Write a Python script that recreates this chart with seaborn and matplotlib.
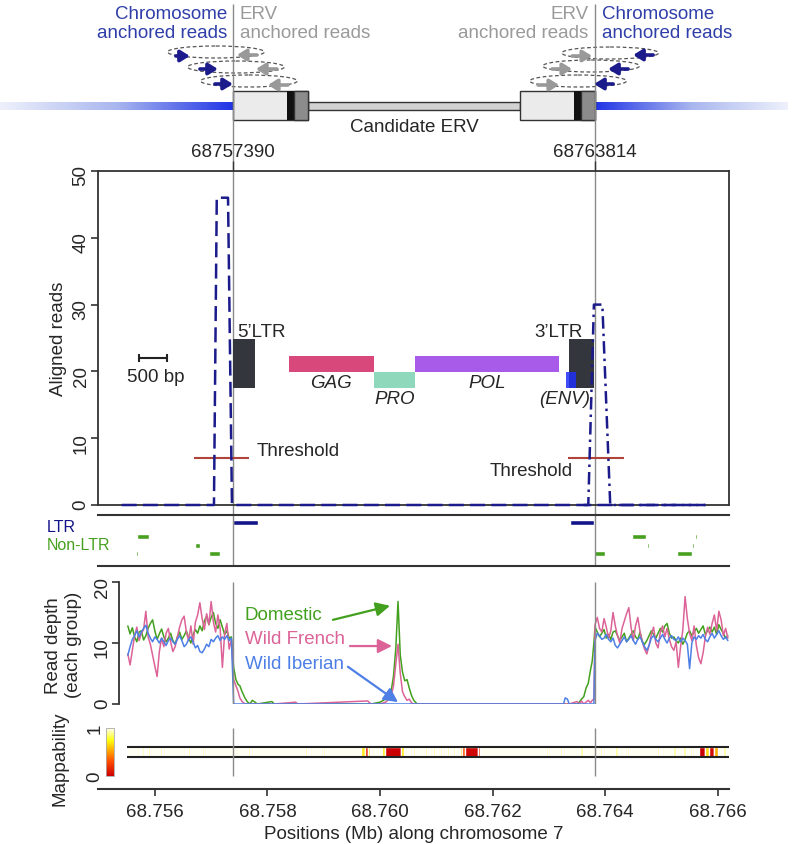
import numpy as np
import pandas as pd
import matplotlib
matplotlib.use("Agg")
import matplotlib.pyplot as plt
import seaborn as sns
from matplotlib.patches import Rectangle, Ellipse
from matplotlib.colors import LinearSegmentedColormap, Normalize
import matplotlib.cm as cm

# ---------------- data ----------------
INS_5 = 68.757390          # 5' insertion site (Mb)
INS_3 = 68.763814          # 3' insertion site (Mb)
site_labels = ["68757390", "68763814"]

# discordant read coverage (aligned reads)
reads5_pos = [68.75541, 68.75705, 68.75710, 68.75730, 68.75737, 68.76578]
reads5_val = [0, 0, 46, 46, 0, 0]
reads3_pos = [68.76362, 68.76370, 68.76380, 68.76395, 68.76409, 68.76578]
reads3_val = [0, 0, 30, 30, 0, 0]
threshold = 7
thr_start = [68.75669, 68.76334]
thr_end = [68.75767, 68.76434]

# ERV annotation
ltr_names = ["5’LTR", "3’LTR"]
ltr_start = [68.75739, 68.76336]
ltr_end = [68.75778, 68.76381]
feat_names = ["GAG", "PRO", "POL", "(ENV)"]
feat_start = [68.75838, 68.75989, 68.76062, 68.76331]
feat_end = [68.75989, 68.76062, 68.76318, 68.76348]

# repeat annotation track
te_ltr_start = [68.75739, 68.76338]
te_ltr_end = [68.75783, 68.76381]
te_non_start = [68.75568, 68.75567, 68.75671, 68.75696, 68.76381, 68.76448, 68.76474, 68.76477, 68.76528, 68.76555, 68.76559]
te_non_end = [68.75589, 68.75570, 68.75680, 68.75716, 68.76400, 68.76473, 68.76477, 68.76480, 68.76555, 68.76558, 68.76564]
te_non_row = [1, 3, 2, 3, 3, 1, 2, 3, 3, 2, 1]

# read depth per group
groups = ["Domestic", "Wild French", "Wild Iberian"]
left_pos = np.round(68.75552 + 0.00004 * np.arange(47), 5)
mid_pos = [68.75740, 68.75744, 68.75748, 68.75751, 68.75755, 68.75760, 68.75764, 68.75769, 68.75773, 68.75778,
           68.75782, 68.75808, 68.75812, 68.75850, 68.75854, 68.75978, 68.75984, 68.76000, 68.76010, 68.76016,
           68.76020, 68.76024, 68.76028, 68.76032, 68.76036, 68.76040, 68.76044, 68.76048, 68.76052, 68.76056,
           68.76060, 68.76066, 68.76326, 68.76329, 68.76333, 68.76336, 68.76350, 68.76354, 68.76358, 68.76362,
           68.76366, 68.76370, 68.76374, 68.76377, 68.76380]
right_pos = np.round(68.76382 + 0.00004 * np.arange(60), 5)

dom_left = [12.8, 11.5, 12.5, 11.0, 10.2, 11.8, 12.0, 10.5, 11.2, 12.4,
            13.2, 13.8, 12.0, 10.6, 11.5, 12.3, 11.0, 10.2, 10.8, 11.6,
            10.4, 9.8, 11.0, 11.8, 10.6, 11.2, 12.0, 10.8, 10.0, 11.4,
            12.2, 11.6, 12.8, 12.0, 13.6, 14.4, 13.0, 14.2, 15.0, 13.2,
            12.4, 13.8, 12.6, 11.4, 12.0, 10.8, 11.0]
fr_left = [8.2, 6.4, 8.8, 11.2, 12.6, 10.4, 11.6, 12.2, 15.2, 11.0,
           9.8, 8.0, 6.2, 4.5, 8.6, 10.8, 9.4, 11.6, 12.4, 10.2,
           8.6, 9.4, 11.0, 12.6, 13.8, 14.4, 11.8, 10.4, 12.8, 9.8,
           13.4, 14.6, 16.6, 14.0, 12.2, 14.8, 13.0, 16.8, 13.4, 11.8,
           14.6, 12.4, 6.0, 11.6, 13.2, 9.0, 10.6]
ib_left = [8.0, 9.4, 10.6, 11.2, 12.0, 11.0, 11.8, 12.4, 12.9, 11.6,
           10.8, 10.2, 11.0, 10.6, 10.0, 10.8, 10.2, 9.6, 10.4, 10.8,
           10.2, 9.8, 10.6, 11.2, 10.4, 9.4, 9.8, 10.6, 11.0, 10.2,
           9.2, 9.6, 8.6, 8.4, 9.0, 9.8, 9.4, 10.6, 10.2, 10.8,
           11.2, 10.4, 11.0, 10.6, 11.2, 10.4, 10.8]

dom_mid = [6.0, 4.0, 3.2, 3.0, 2.0, 1.0, 0.4, 0.0, 0.6, 0.3,
           0.0, 0.4, 0.0, 0.0, 0.0, 0.0, 0.0, 0.3, 0.8, 1.6,
           2.2, 4.6, 9.0, 16.8, 8.0, 5.2, 3.8, 4.0, 2.6, 1.4,
           0.6, 0.0, 0.0, 0.0, 0.0, 0.0, 0.0, 0.3, 0.8, 1.2,
           2.6, 3.4, 5.6, 7.0, 10.0]
fr_mid = [4.0, 3.0, 2.0, 1.0, 0.4, 0.0, 0.0, 0.0, 0.0, 0.0,
          0.0, 0.0, 0.0, 0.3, 0.0, 0.5, 0.0, 0.0, 0.3, 0.8,
          1.4, 3.0, 6.5, 9.8, 5.0, 2.0, 1.2, 0.6, 0.8, 0.2,
          0.0, 0.0, 0.0, 0.0, 0.0, 0.0, 0.4, 0.0, 0.5, 0.0,
          0.3, 0.6, 0.2, 0.6, 0.8]
ib_mid = [0.0, 0.0, 0.0, 0.0, 0.0, 0.0, 0.0, 0.0, 0.0, 0.0,
          0.0, 0.0, 0.0, 0.0, 0.0, 0.0, 0.0, 0.0, 0.0, 0.0,
          0.0, 0.0, 0.0, 0.0, 0.0, 0.0, 0.0, 0.0, 0.0, 0.0,
          0.0, 0.0, 0.0, 1.0, 0.8, 0.0, 0.0, 0.0, 0.0, 0.0,
          0.0, 0.0, 0.0, 0.0, 0.0]

dom_right = [12.6, 11.8, 11.0, 11.6, 12.2, 10.8, 11.4, 10.6, 11.8, 12.0,
             11.2, 10.4, 11.0, 11.6, 10.2, 10.8, 11.4, 12.0, 11.0, 10.6,
             11.8, 10.2, 9.8, 10.4, 11.2, 12.0, 11.4, 10.8, 11.6, 12.4,
             11.8, 12.8, 13.2, 11.6, 10.8, 11.0, 10.4, 10.0, 10.8, 9.8,
             10.6, 11.6, 12.0, 11.2, 11.8, 12.4, 11.6, 12.2, 12.8, 11.4,
             12.0, 12.6, 11.8, 12.6, 11.4, 13.0, 12.2, 11.6, 10.8, 11.2]
fr_right = [13.0, 14.2, 12.4, 11.8, 14.0, 12.6, 10.8, 12.0, 15.0, 12.8,
            11.2, 10.0, 12.4, 13.6, 14.8, 15.8, 12.6, 10.4, 12.8, 14.2,
            11.8, 10.2, 9.0, 8.2, 9.6, 11.4, 12.6, 10.0, 9.2, 11.8,
            12.8, 11.0, 12.4, 10.6, 9.4, 8.8, 10.2, 6.0, 9.4, 12.2,
            17.6, 14.0, 11.6, 10.4, 12.8, 9.6, 7.6, 6.6, 8.4, 11.0,
            12.6, 11.4, 13.2, 14.6, 12.0, 15.2, 13.8, 11.2, 12.4, 10.8]
ib_right = [10.4, 11.6, 11.2, 10.6, 10.8, 11.4, 10.6, 10.2, 10.8, 9.6,
            9.2, 9.8, 10.4, 11.0, 10.2, 10.6, 11.2, 10.4, 9.8, 10.6,
            11.0, 10.2, 9.4, 8.8, 9.6, 10.8, 11.2, 10.6, 10.2, 10.8,
            11.4, 10.6, 10.0, 10.8, 11.2, 10.6, 10.4, 11.0, 10.2, 10.8,
            10.4, 9.8, 5.8, 10.0, 11.0, 10.6, 11.2, 10.8, 11.4, 10.6,
            10.2, 11.0, 11.6, 10.8, 11.4, 12.0, 11.2, 10.6, 11.0, 10.4]

# mappability (1 everywhere except these spans)
map_range = (68.75550, 68.76620)
map_spot_pos = [68.75577, 68.75588, 68.75609, 68.75659, 68.75684, 68.75765, 68.75867, 68.75899,
                68.76059, 68.76080, 68.76094, 68.76107, 68.76119, 68.76130, 68.76295, 68.76320,
                68.76356, 68.76391, 68.76418, 68.76439, 68.76492, 68.76521, 68.76539, 68.76551, 68.76610]
map_spot_val = 0.9
map_low_start = [68.75966, 68.75973, 68.75979, 68.76003, 68.76009, 68.76037, 68.76142,
                 68.76146, 68.76151, 68.76174, 68.76567, 68.76578, 68.76585, 68.76594]
map_low_end = [68.75973, 68.75979, 68.75983, 68.76009, 68.76037, 68.76043, 68.76146,
               68.76151, 68.76174, 68.76178, 68.76578, 68.76585, 68.76594, 68.76600]
map_low_val = [0.7, 0.15, 0.7, 0.7, 0.0, 0.7, 0.65, 0.3, 0.02, 0.2, 0.0, 0.65, 0.05, 0.55]

x_ticks = [68.756, 68.758, 68.760, 68.762, 68.764, 68.766]

# ---------------- style ----------------
sns.set_style("white")
plt.rcParams["font.family"] = ["Liberation Sans", "DejaVu Sans"]
plt.rcParams["font.size"] = 13.5

NAVY = "#1b1b8c"
GREEN = "#48a020"
TXT_BLUE = "#2f3ea8"
GREY_TXT = "#9a9a9a"
VLINE = "#8a8a8a"
SPINE = "#333333"
palette = {"Domestic": "#43a01f", "Wild French": "#dc6398", "Wild Iberian": "#4d7fe6"}
feat_colors = {"GAG": "#d9487a", "PRO": "#8fd8bb", "POL": "#a85ae8", "(ENV)": "#1f2ff5"}
feat_lane = {"GAG": (19.9, 2.4), "PRO": (17.5, 2.4), "POL": (19.9, 2.4), "(ENV)": (17.5, 2.4)}

XMIN, XMAX = 68.75499, 68.76620
W, H = 793, 845
fig = plt.figure(figsize=(W / 100, H / 100), dpi=100)


def px_axes(left, top, right, bottom):
    return fig.add_axes([left / W, 1 - bottom / H, (right - left) / W, (bottom - top) / H])


# ---------------- schematic ----------------
span = (XMAX - XMIN) / (729 - 98)
sx0, sx1 = XMIN - 98 * span, XMAX + (W - 729) * span
ax_s = px_axes(0, 0, W, 172)
ax_s.axis("off")

grad = np.linspace(0, 1, 256)[None, :]
chrom_cmap = LinearSegmentedColormap.from_list("chrom", ["#eef1fb", "#a9b6ef", "#1f33e6"])
ax_s.imshow(grad, extent=(sx0, INS_5, 111, 103), cmap=chrom_cmap, aspect="auto")
ax_s.imshow(grad[:, ::-1], extent=(INS_3, sx1 - 0.0001, 111, 103), cmap=chrom_cmap, aspect="auto")

box_len = 0.00133
ax_s.add_patch(Rectangle((INS_5 + box_len, 103), INS_3 - INS_5 - 2 * box_len, 8,
                         facecolor="#d2d2d2", edgecolor=SPINE, lw=1))
for b0 in [INS_5, INS_3 - box_len]:
    ax_s.add_patch(Rectangle((b0, 92), box_len, 29, facecolor="#ebebeb", edgecolor=SPINE, lw=1))
    ax_s.add_patch(Rectangle((b0 + 0.00096, 92), 0.000125, 29, facecolor="#111111", edgecolor="none"))
    ax_s.add_patch(Rectangle((b0 + 0.001085, 92), box_len - 0.001085, 29, facecolor="#8c8c8c",
                             edgecolor=SPINE, lw=1))
ax_s.text((INS_5 + INS_3) / 2, 128, "Candidate ERV", ha="center", va="center")

ax_s.text(INS_5 - 0.00011, 24, "Chromosome\nanchored reads", ha="right", va="center",
          multialignment="right", color=TXT_BLUE)
ax_s.text(INS_5 + 0.00012, 24, "ERV\nanchored reads", ha="left", va="center",
          multialignment="left", color=GREY_TXT)
ax_s.text(INS_3 - 0.00011, 24, "ERV\nanchored reads", ha="right", va="center",
          multialignment="right", color=GREY_TXT)
ax_s.text(INS_3 + 0.00013, 24, "Chromosome\nanchored reads", ha="left", va="center",
          multialignment="left", color=TXT_BLUE)

ell_w = 0.00172
for cx, cy in [(68.757084, 53), (68.757440, 68), (68.757671, 82),
               (68.764089, 54), (68.763751, 67), (68.763520, 82)]:
    ax_s.add_patch(Ellipse((cx, cy), ell_w, 12, fill=False, ls=(0, (3, 2)), edgecolor="#555555", lw=0.9))

arrows = [(68.756373, 68.756622, 57, NAVY), (68.756800, 68.757120, 70, NAVY), (68.757067, 68.757387, 85, NAVY),
          (68.757813, 68.757458, 56, "#999999"), (68.758169, 68.757796, 70, "#999999"), (68.758364, 68.758009, 86, "#999999"),
          (68.763413, 68.763769, 57, "#999999"), (68.763058, 68.763413, 70, "#999999"), (68.762809, 68.763182, 86, "#999999"),
          (68.764853, 68.764498, 56, NAVY), (68.764409, 68.764053, 70, NAVY), (68.764142, 68.763804, 85, NAVY)]
for x0, x1, y, c in arrows:
    ax_s.annotate("", xy=(x1, y), xytext=(x0, y),
                  arrowprops=dict(arrowstyle="-|>,head_length=0.45,head_width=0.28", color=c, lw=2.6,
                                  shrinkA=0, shrinkB=0, mutation_scale=12))
ax_s.vlines([INS_5, INS_3], 5, 172, colors=VLINE, lw=1)
ax_s.set_xlim(sx0, sx1)
ax_s.set_ylim(172, 0)

# ---------------- aligned reads ----------------
ax = px_axes(98, 172, 729, 506)
sns.lineplot(x=reads5_pos, y=reads5_val, estimator=None, sort=False, color=NAVY, lw=1.8,
             linestyle=(0, (6, 2.5)), ax=ax, clip_on=False, zorder=4)
sns.lineplot(x=reads3_pos, y=reads3_val, estimator=None, sort=False, color=NAVY, lw=1.8,
             linestyle=(0, (5, 2, 1, 2)), ax=ax, clip_on=False, zorder=4)
ax.hlines([threshold, threshold], thr_start, thr_end, colors="#b0443a", lw=1.5)
ax.text(68.75781, threshold + 1.1, "Threshold", ha="left", va="center")
ax.text(68.76343, threshold - 1.9, "Threshold", ha="right", va="center")

for name, s, e in zip(ltr_names, ltr_start, ltr_end):
    ax.add_patch(Rectangle((s, 17.5), e - s, 7.3, facecolor="#33363d", edgecolor="none", zorder=3))
ax.text(ltr_start[0] + 0.00007, 26.0, ltr_names[0], ha="left", va="center")
ax.text(68.76360, 26.0, ltr_names[1], ha="right", va="center")
for name, s, e in zip(feat_names, feat_start, feat_end):
    y0, h = feat_lane[name]
    ax.add_patch(Rectangle((s, y0), e - s, h, facecolor=feat_colors[name], edgecolor="none",
                           alpha=0.85 if name == "(ENV)" else 1, zorder=3.5))
    ty = y0 - 1.5
    ax.text((s + e) / 2 - (0.00012 if name == "(ENV)" else 0), ty, name, ha="center", va="center",
            style="italic")

ax.errorbar([68.75597], [22.0], xerr=[0.00025], color="#222222", capsize=3, lw=1.5, capthick=1.5)
ax.text(68.75602, 19.3, "500 bp", ha="center", va="center")

ax.vlines([INS_5, INS_3], -2, 50, colors=VLINE, lw=1, clip_on=False, zorder=1)
ax.set_xlim(XMIN, XMAX)
ax.set_ylim(0, 50)
ax.set_yticks([0, 10, 20, 30, 40, 50])
ax.xaxis.tick_top()
ax.set_xticks([INS_5, INS_3])
ax.set_xticklabels(site_labels)
ax.tick_params(axis="x", length=7, width=1, color=SPINE, pad=1, labelsize=13.5)
ax.tick_params(axis="y", left=True, length=5, width=1.2, color=SPINE, pad=1, labelrotation=90, labelsize=13.5)
for sp in ax.spines.values():
    sp.set_color(SPINE)
    sp.set_linewidth(1.3)
ax.set_xlabel("")
ax.set_ylabel("")
ax.text(-0.063, 0.5, "Aligned reads", rotation=90, ha="center", va="center", transform=ax.transAxes)

# ---------------- repeat track ----------------
ax_te = px_axes(98, 516, 729, 567)
row_y = {0: 7, 1: 21, 2: 30, 3: 38}
ax_te.broken_barh([(s, e - s) for s, e in zip(te_ltr_start, te_ltr_end)], (row_y[0] - 2.5, 5),
                  facecolors="#14148a")
for s, e, r in zip(te_non_start, te_non_end, te_non_row):
    ax_te.broken_barh([(s, e - s)], (row_y[r] - 2.5, 5), facecolors=GREEN)
ax_te.vlines([INS_5, INS_3], 0, 51, colors=VLINE, lw=1)
ax_te.set_xlim(XMIN, XMAX)
ax_te.set_ylim(51, 0)
ax_te.set_xticks([])
ax_te.set_yticks([])
for side in ["left", "right"]:
    ax_te.spines[side].set_visible(False)
for side in ["top", "bottom"]:
    ax_te.spines[side].set_color(SPINE)
    ax_te.spines[side].set_linewidth(1.5)
ax_te.text(-0.081, 1 - 11 / 51, "LTR", color="#14148a", ha="left", va="center", fontsize=11.5,
           transform=ax_te.transAxes)
ax_te.text(-0.081, 1 - 29 / 51, "Non-LTR", color=GREEN, ha="left", va="center", fontsize=11.5,
           transform=ax_te.transAxes)

# ---------------- read depth ----------------
ax_rd = px_axes(98, 583, 729, 705)
pos_all = np.concatenate([left_pos, mid_pos, right_pos])
depth = pd.DataFrame({
    "pos": np.tile(pos_all, 3),
    "depth": dom_left + dom_mid + dom_right + fr_left + fr_mid + fr_right + ib_left + ib_mid + ib_right,
    "group": np.repeat(groups, len(pos_all)),
})
sns.lineplot(data=depth, x="pos", y="depth", hue="group", hue_order=groups, palette=palette,
             estimator=None, sort=False, lw=1.1, legend=False, ax=ax_rd)
ax_rd.vlines([INS_5, INS_3], 0, 20, colors=VLINE, lw=1)
ax_rd.set_xlim(XMIN, XMAX)
ax_rd.set_ylim(0, 20)
ax_rd.set_yticks([0, 10, 20])
ax_rd.set_xticks([])
for side in ["top", "right", "bottom"]:
    ax_rd.spines[side].set_visible(False)
ax_rd.spines["left"].set_position(("data", 68.75537))
ax_rd.spines["left"].set_color(SPINE)
ax_rd.spines["left"].set_linewidth(1.3)
ax_rd.tick_params(axis="y", left=True, length=5, width=1.2, color=SPINE, pad=1, labelrotation=90, labelsize=13.5)
ax_rd.set_xlabel("")
ax_rd.set_ylabel("")
ax_rd.text(-0.055, 0.49, "Read depth\n(each group)", rotation=90, ha="center", va="center",
           transform=ax_rd.transAxes)

ann = [("Domestic", 14.6, (68.759164, 13.8), (68.760178, 16.1)),
       ("Wild French", 10.7, (68.759467, 9.5), (68.760213, 9.5)),
       ("Wild Iberian", 6.7, (68.759431, 6.1), (68.760320, 0.3))]
for g, ty, tail, tip in ann:
    ax_rd.text(68.75760, ty, g, color=palette[g], ha="left", va="center")
    ax_rd.annotate("", xy=tip, xytext=tail,
                   arrowprops=dict(arrowstyle="-|>,head_length=0.6,head_width=0.3", color=palette[g],
                                   lw=1.6, shrinkA=0, shrinkB=0, mutation_scale=14))

# ---------------- mappability ----------------
map_cmap = LinearSegmentedColormap.from_list(
    "mapp", [(0, "#cc0000"), (0.3, "#ff4a00"), (0.55, "#ffb000"), (0.75, "#ffff10"), (1, "#fffff2")])
ax_m = px_axes(98, 729, 729, 790)
ax_m.broken_barh([(map_range[0], map_range[1] - map_range[0])], (19, 10), facecolors=map_cmap(1.0))
ax_m.broken_barh([(p, 0.00004) for p in map_spot_pos], (19, 10), facecolors=map_cmap(map_spot_val))
for s, e, v in zip(map_low_start, map_low_end, map_low_val):
    ax_m.broken_barh([(s, e - s)], (19, 10), facecolors=map_cmap(v))
ax_m.hlines([19, 29], map_range[0], map_range[1], colors="#222222", lw=1.5)
ax_m.vlines([INS_5, INS_3], 0, 48, colors=VLINE, lw=1)
ax_m.set_xlim(XMIN, XMAX)
ax_m.set_ylim(61, 0)
ax_m.set_yticks([])
ax_m.set_xticks(x_ticks)
ax_m.set_xticklabels([f"{t:.3f}" for t in x_ticks])
for side in ["top", "right", "left"]:
    ax_m.spines[side].set_visible(False)
ax_m.spines["bottom"].set_color(SPINE)
ax_m.spines["bottom"].set_linewidth(1.5)
ax_m.tick_params(axis="x", bottom=True, length=5, width=1.2, color=SPINE, pad=5, labelsize=13.5)
ax_m.set_xlabel("Positions (Mb) along chromosome 7", labelpad=4)
ax_m.text(-0.060, 0.52, "Mappability", rotation=90, ha="center", va="center", transform=ax_m.transAxes)

cax = px_axes(106, 729, 114, 777)
cb = fig.colorbar(cm.ScalarMappable(norm=Normalize(0, 1), cmap=map_cmap), cax=cax, ticks=[0, 1])
cb.outline.set_edgecolor("#aaaaaa")
cb.outline.set_linewidth(0.6)
cax.yaxis.set_ticks_position("left")
cax.tick_params(length=0, pad=2, labelrotation=90, labelsize=13.5)
for lab in cax.get_yticklabels():
    lab.set_va("center")

fig.savefig("out.png", dpi=100)
